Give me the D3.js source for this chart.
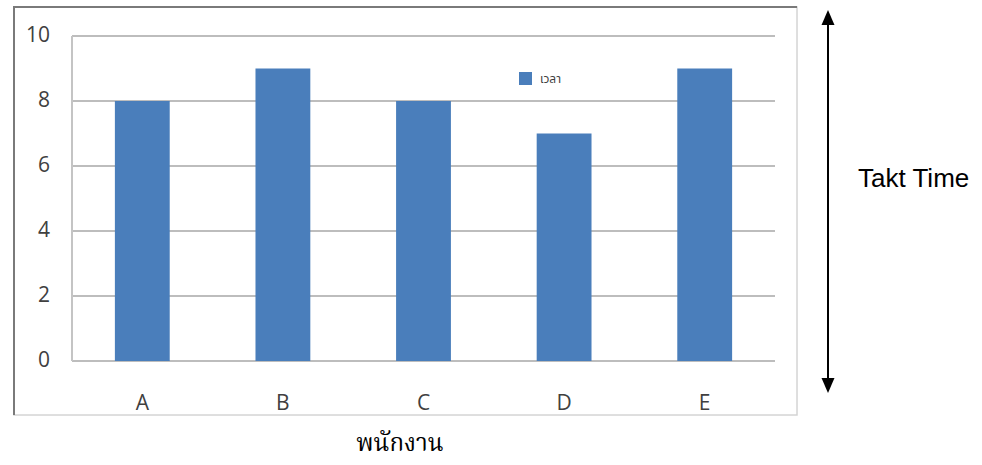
<!DOCTYPE html>
<html>
<head>
<meta charset="utf-8">
<script src="https://cdn.jsdelivr.net/npm/d3@7"></script>
<style>
  body { margin: 0; background: #fff; }
  svg { display: block; }
</style>
</head>
<body>
<div id="chart"></div>
<script>
// data
const categories = ['A', 'B', 'C', 'D', 'E'];
const values = [8, 9, 8, 7, 9];
const yTicks = [0, 2, 4, 6, 8, 10];
const seriesName = 'เวลา';
const xTitle = 'พนักงาน';
const sideLabel = 'Takt Time';

const width = 982;
const height = 465;

const svg = d3.select('#chart').append('svg')
    .attr('width', width)
    .attr('height', height);

// chart frame (the pasted Excel chart box)
const frame = { left: 14, top: 7, right: 797, bottom: 415 };
svg.append('rect')
    .attr('x', frame.left).attr('y', frame.top)
    .attr('width', frame.right - frame.left)
    .attr('height', frame.bottom - frame.top)
    .attr('fill', '#fff')
    .attr('stroke', '#d4d4d4')
    .attr('stroke-width', 1.5);
svg.append('path')
    .attr('d', `M${frame.left},${frame.bottom} V${frame.top} H${frame.right}`)
    .attr('fill', 'none')
    .attr('stroke', '#7a7a7a')
    .attr('stroke-width', 2);

const plot = { left: 72, right: 775, top: 36, bottom: 361 };

const x = d3.scaleBand()
    .domain(categories)
    .range([plot.left, plot.right])
    .paddingInner(0.61)
    .paddingOuter(0.305);

const y = d3.scaleLinear()
    .domain([0, 10])
    .range([plot.bottom, plot.top]);

// gridlines
svg.append('g')
    .selectAll('line')
    .data(yTicks)
    .join('line')
    .attr('x1', plot.left)
    .attr('x2', plot.right)
    .attr('y1', d => y(d))
    .attr('y2', d => y(d))
    .attr('stroke', '#bdbdbd')
    .attr('stroke-width', 2);

// y axis line
svg.append('line')
    .attr('x1', plot.left).attr('x2', plot.left)
    .attr('y1', y(10)).attr('y2', y(0))
    .attr('stroke', '#c4c4c4')
    .attr('stroke-width', 2);

// bars
svg.append('g')
    .selectAll('rect')
    .data(values)
    .join('rect')
    .attr('x', (d, i) => x(categories[i]))
    .attr('y', d => y(d))
    .attr('width', x.bandwidth())
    .attr('height', d => y(0) - y(d))
    .attr('fill', '#4a7ebb');

// y tick labels
svg.append('g')
    .selectAll('text')
    .data(yTicks)
    .join('text')
    .attr('x', 50)
    .attr('y', d => y(d) - 1)
    .attr('dy', '0.35em')
    .attr('text-anchor', 'end')
    .style('font-family', '"Open Sans", sans-serif')
    .style('font-size', '21px')
    .style('fill', '#404040')
    .text(d => d);

// x tick labels
svg.append('g')
    .selectAll('text')
    .data(categories)
    .join('text')
    .attr('x', d => x(d) + x.bandwidth() / 2)
    .attr('y', 410)
    .attr('text-anchor', 'middle')
    .style('font-family', '"Open Sans", sans-serif')
    .style('font-size', '21px')
    .style('fill', '#404040')
    .text(d => d);

// legend
const legend = svg.append('g').attr('transform', 'translate(519,72)');
legend.append('rect')
    .attr('width', 13).attr('height', 13)
    .attr('fill', '#4a7ebb');
legend.append('text')
    .attr('x', 21).attr('y', 7)
    .attr('dy', '0.35em')
    .style('font-family', '"Noto Sans Thai", "Noto Sans", sans-serif')
    .style('font-size', '12px')
    .style('fill', '#404040')
    .text(seriesName);

// axis title below frame
svg.append('text')
    .attr('x', 400).attr('y', 451)
    .attr('text-anchor', 'middle')
    .style('font-family', '"Noto Serif Thai", "Noto Sans Thai", serif')
    .style('font-size', '24px')
    .style('fill', '#000')
    .text(xTitle);

// double-headed takt time arrow
const arrowX = 828;
const arrowTop = 10, arrowBottom = 393, head = 15, half = 6.5;
svg.append('line')
    .attr('x1', arrowX).attr('x2', arrowX)
    .attr('y1', arrowTop + head - 2).attr('y2', arrowBottom - head + 2)
    .attr('stroke', '#000')
    .attr('stroke-width', 2);
svg.append('path')
    .attr('d', `M${arrowX},${arrowTop} L${arrowX + half},${arrowTop + head} L${arrowX - half},${arrowTop + head} Z`)
    .attr('fill', '#000');
svg.append('path')
    .attr('d', `M${arrowX},${arrowBottom} L${arrowX + half},${arrowBottom - head} L${arrowX - half},${arrowBottom - head} Z`)
    .attr('fill', '#000');

svg.append('text')
    .attr('x', 858).attr('y', 187)
    .style('font-family', '"Liberation Sans", Arial, sans-serif')
    .style('font-size', '26px')
    .style('fill', '#000')
    .text(sideLabel);
</script>
</body>
</html>
